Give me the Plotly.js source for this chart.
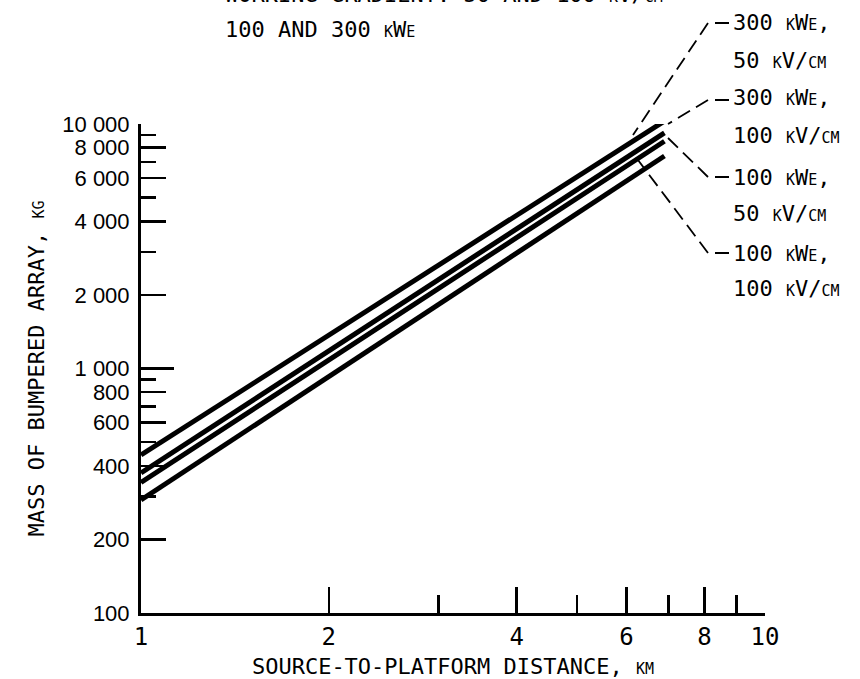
<!DOCTYPE html>
<html>
<head>
<meta charset="utf-8">
<script src="https://cdn.plot.ly/plotly-3.0.1.min.js"></script>
<style>
  html, body { margin: 0; padding: 0; background: #fff; }
  #chart { width: 860px; height: 679px; }
</style>
</head>
<body>
<div id="chart"></div>
<script>
// ---- data ----
const distanceKm = [1, 6.9];
const mass300kWe50 = [443, 10280];
const mass300kWe100 = [374, 9200];
const mass100kWe50 = [342, 8500];
const mass100kWe100 = [290, 7400];
const seriesNames = ["300 kWe, 50 kV/cm", "300 kWe, 100 kV/cm", "100 kWe, 50 kV/cm", "100 kWe, 100 kV/cm"];
const labelLine1 = ["300 kWe,", "300 kWe,", "100 kWe,", "100 kWe,"];
const labelLine2 = ["50 kV/cm", "100 kV/cm", "50 kV/cm", "100 kV/cm"];
const xTickVals = [1, 2, 4, 6, 8, 10];
const xTickText = ["1", "2", "4", "6", "8", "10"];
const xMinorVals = [3, 5, 7, 9];
const yTickVals = [100, 200, 400, 600, 800, 1000, 2000, 4000, 6000, 8000, 10000];
const yTickText = ["100", "200", "400", "600", "800", "1 000", "2 000", "4 000", "6 000", "8 000", "10 000"];
const yMinorVals = [300, 500, 700, 900, 3000, 5000, 7000, 9000];
const yLongVals = [1000, 10000];
const xLongVals = [10];
const titleLine1 = "WORKING GRADIENT: 50 AND 100 kV/cm";
const titleLine2 = "100 AND 300 kWe";
const xTitle = "SOURCE-TO-PLATFORM DISTANCE, km";
const yTitle = "MASS OF BUMPERED ARRAY, kg";

// ---- layout helpers ----
const W = 860, H = 679;
const M = {l: 141, r: 95, t: 124, b: 66};
const PW = W - M.l - M.r, PH = H - M.t - M.b;
const px2x = p => (p - M.l) / PW;
const px2y = p => (H - M.b - p) / PH;
const MONO = "DejaVu Sans Mono, monospace";
const SC = 15;
function sc(s) {
  return s.replace(/[a-z]+/g, m => '<span style="font-size:' + SC + 'px">' + m.toUpperCase() + '</span>');
}

const series = [mass300kWe50, mass300kWe100, mass100kWe50, mass100kWe100];
const traces = series.map((ys, i) => ({
  x: distanceKm, y: ys, type: 'scatter', mode: 'lines', name: seriesNames[i],
  xaxis: 'x', yaxis: i === 0 ? 'y2' : 'y',
  line: {color: '#000', width: 5}, hoverinfo: 'name'
}));
traces[1].xaxis = 'x2';

// label placement (pixels): text left, line centres, leader geometry
const labelX = 731;
const labelY1 = [23, 98, 177, 253];
const labelY2 = [60, 135, 213, 288];
const leaders = [
  [[729, 23], [708, 23], [633, 135]],
  [[729, 100], [708, 100], [668, 124]],
  [[729, 177], [708, 177], [668, 138]],
  [[729, 253], [708, 253], [638, 160]]
];

const annotations = [];
for (let i = 0; i < 4; i++) {
  annotations.push({xref: 'paper', yref: 'paper', x: px2x(labelX), y: px2y(labelY1[i]),
    xanchor: 'left', yanchor: 'middle', text: sc(labelLine1[i]), showarrow: false,
    font: {family: MONO, size: 22, color: '#000'}});
  annotations.push({xref: 'paper', yref: 'paper', x: px2x(labelX), y: px2y(labelY2[i]),
    xanchor: 'left', yanchor: 'middle', text: sc(labelLine2[i]), showarrow: false,
    font: {family: MONO, size: 22, color: '#000'}});
}
annotations.push({xref: 'paper', yref: 'paper', x: px2x(223), y: px2y(-5),
  xanchor: 'left', yanchor: 'middle', text: sc(titleLine1), showarrow: false,
  font: {family: MONO, size: 22, color: '#000'}});
annotations.push({xref: 'paper', yref: 'paper', x: px2x(223), y: px2y(29),
  xanchor: 'left', yanchor: 'middle', text: sc(titleLine2), showarrow: false,
  font: {family: MONO, size: 22, color: '#000'}});

const shapes = leaders.map(pts => ({
  type: 'path', xref: 'paper', yref: 'paper',
  path: pts.map((p, k) => (k ? 'L' : 'M') + px2x(p[0]) + ',' + px2y(p[1])).join(' '),
  line: {color: '#000', width: 1.8, dash: '14px,7px'}
}));

const layout = {
  width: W, height: H,
  margin: M,
  paper_bgcolor: '#fff', plot_bgcolor: '#fff',
  showlegend: false,
  xaxis: {
    type: 'log', range: [0, 1], showgrid: false, zeroline: false,
    showline: true, linecolor: '#000', linewidth: 3,
    ticks: 'inside', tickmode: 'array', tickvals: xTickVals, ticktext: xTickText,
    ticklen: 26, tickwidth: 2.5, tickcolor: '#000',
    minor: {tickmode: 'array', tickvals: xMinorVals, ticks: 'inside', ticklen: 18, tickwidth: 2.5, tickcolor: '#000', showgrid: false},
    tickfont: {family: MONO, size: 24, color: '#000'},
    title: {text: sc(xTitle), font: {family: MONO, size: 22, color: '#000'}, standoff: 10}
  },
  yaxis: {
    type: 'log', range: [2, 4], showgrid: false, zeroline: false,
    showline: true, linecolor: '#000', linewidth: 3,
    ticks: 'inside', tickmode: 'array', tickvals: yTickVals, ticktext: yTickText,
    ticklen: 25, tickwidth: 2.5, tickcolor: '#000',
    minor: {tickmode: 'array', tickvals: yMinorVals, ticks: 'inside', ticklen: 15, tickwidth: 2.5, tickcolor: '#000', showgrid: false},
    tickfont: {family: 'Liberation Sans, Arial, sans-serif', size: 22, color: '#000'},
    ticklabelstandoff: 4,
    title: {text: sc(yTitle), font: {family: MONO, size: 22, color: '#000'}, standoff: 12}
  },
  xaxis2: {
    type: 'log', range: [0, 1], overlaying: 'x', anchor: 'y', side: 'bottom',
    showgrid: false, zeroline: false, showline: false,
    ticks: 'inside', tickmode: 'array', tickvals: xLongVals, ticklen: 36, tickwidth: 2.5, tickcolor: '#000',
    showticklabels: false
  },
  yaxis2: {
    type: 'log', range: [2, 4], overlaying: 'y', anchor: 'x', side: 'left',
    showgrid: false, zeroline: false, showline: false,
    ticks: 'inside', tickmode: 'array', tickvals: yLongVals, ticklen: 33, tickwidth: 2.5, tickcolor: '#000',
    showticklabels: false
  },
  annotations: annotations,
  shapes: shapes
};

Plotly.newPlot('chart', traces, layout, {displayModeBar: false, staticPlot: true});
</script>
</body>
</html>
